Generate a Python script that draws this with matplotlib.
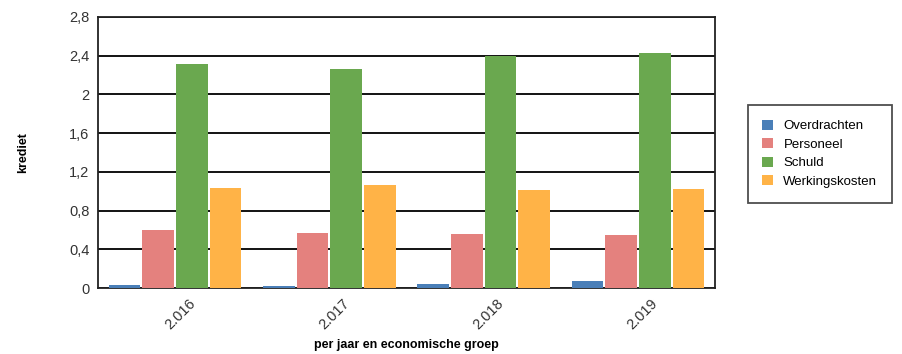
import matplotlib
matplotlib.use("Agg")
import matplotlib.pyplot as plt
import numpy as np

years = ["2.016", "2.017", "2.018", "2.019"]
series_names = ["Overdrachten", "Personeel", "Schuld", "Werkingskosten"]
overdrachten = [0.03, 0.02, 0.04, 0.07]
personeel = [0.60, 0.57, 0.56, 0.55]
schuld = [2.31, 2.26, 2.40, 2.43]
werkingskosten = [1.03, 1.06, 1.01, 1.02]
colors = ["#4a7fb8", "#e4817e", "#6aa84f", "#ffb347"]
yticks = [0, 0.4, 0.8, 1.2, 1.6, 2.0, 2.4, 2.8]
ytick_labels = ["0", "0,4", "0,8", "1,2", "1,6", "2", "2,4", "2,8"]

plt.rcParams['font.family'] = ['Liberation Sans', 'DejaVu Sans']

fig = plt.figure(figsize=(9.02, 3.54), dpi=100)
ax = fig.add_axes([0.1086, 0.1864, 0.6841, 0.7656])

data = [overdrachten, personeel, schuld, werkingskosten]
x = np.arange(len(years))
bw = 0.218
for i, (vals, name, c) in enumerate(zip(data, series_names, colors)):
    ax.bar(x + (i - 1.5) * bw, vals, bw * 0.94, color=c, label=name, zorder=3)

ax.set_xlim(-0.5, 3.5)
ax.set_ylim(0, 2.8)
ax.set_yticks(yticks)
ax.set_yticklabels(ytick_labels, fontsize=10.5, color="#333333")
ax.set_xticks(x)
ax.set_xticklabels(years, rotation=45, fontsize=10.5, color="#333333", ha="right", rotation_mode="anchor")
for lbl in ax.get_xticklabels():
    lbl.set_ha("center")
ax.tick_params(axis="x", length=0, pad=15)
ax.tick_params(axis="y", length=0, pad=6)
ax.grid(axis="y", color="black", linewidth=1.3, zorder=0)
ax.set_axisbelow(True)
for s in ax.spines.values():
    s.set_color("#222222")
    s.set_linewidth(1.3)

ax.set_ylabel("krediet", fontsize=9, fontweight="bold", labelpad=29)
ax.set_xlabel("per jaar en economische groep", fontsize=9, fontweight="bold", labelpad=5)

leg = fig.legend(loc="upper left", bbox_to_anchor=(0.829, 0.703), fontsize=9.5,
                 frameon=True, fancybox=False, edgecolor="#222222",
                 handlelength=0.8, handleheight=0.8, borderpad=1.1,
                 labelspacing=0.45, handletextpad=0.8, borderaxespad=0)
leg.get_frame().set_linewidth(1.3)

fig.savefig("out.png", dpi=100)
